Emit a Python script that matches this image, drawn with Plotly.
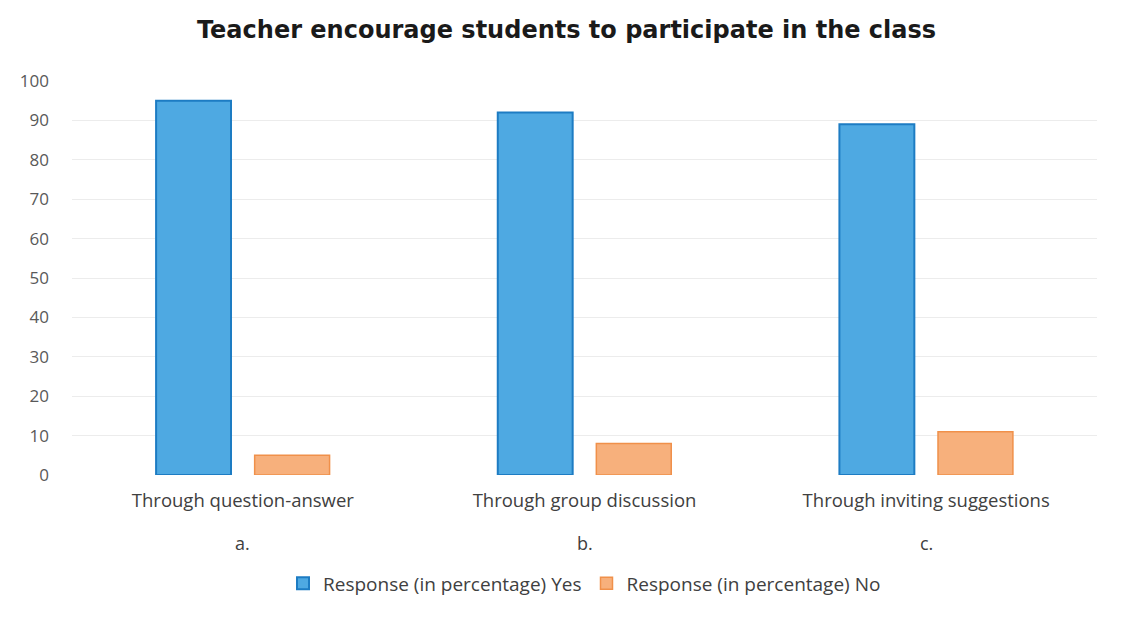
import plotly.graph_objects as go

categories = ["Through question-answer", "Through group discussion", "Through inviting suggestions"]
sublabels = ["a.", "b.", "c."]
yes_values = [95, 92, 89]
no_values = [5, 8, 11]
y_ticks = [0, 10, 20, 30, 40, 50, 60, 70, 80, 90, 100]

fig = go.Figure()
fig.add_trace(go.Bar(
    x=categories, y=yes_values, name="Response (in percentage) Yes",
    marker=dict(color="#4ea9e2", line=dict(color="#1d7cc3", width=2)),
))
fig.add_trace(go.Bar(
    x=categories, y=no_values, name="Response (in percentage) No",
    marker=dict(color="#f7b07c", line=dict(color="#f0904a", width=1.5)),
))

for c, s in zip(categories, sublabels):
    fig.add_annotation(x=c, xref="x", y=-0.173, yref="paper", text=s,
                       showarrow=False, yanchor="middle",
                       font=dict(family="Open Sans", size=18, color="#404040"))

fig.update_layout(
    width=1117, height=610,
    paper_bgcolor="white", plot_bgcolor="white",
    margin=dict(l=60, r=28, t=73, b=143),
    barmode="group", bargap=0.423, bargroupgap=0.24,
    title=dict(text="<b>Teacher encourage students to participate in the class</b>",
               x=0.5, xanchor="center", y=0.964, yanchor="middle",
               font=dict(family="DejaVu Sans", size=24, color="#1a1a1a")),
    font=dict(family="Open Sans", color="#404040"),
    legend=dict(orientation="h", x=0.5, xanchor="center", y=-0.275, yanchor="middle",
                font=dict(size=19, color="#404040"), itemwidth=30),
    showlegend=True,
)
fig.update_xaxes(
    tickmode="array", tickvals=categories, ticktext=categories,
    tickfont=dict(size=18.5, color="#404040"), showgrid=False,
    showline=False, ticks="", ticklabelstandoff=12,
)
fig.update_yaxes(
    range=[0, 100], tickvals=y_ticks, showgrid=True, gridcolor="#ececec",
    gridwidth=1, zeroline=False, tickfont=dict(size=17, color="#595959"),
    ticklabelstandoff=22,
)

fig.write_html("out.html")
